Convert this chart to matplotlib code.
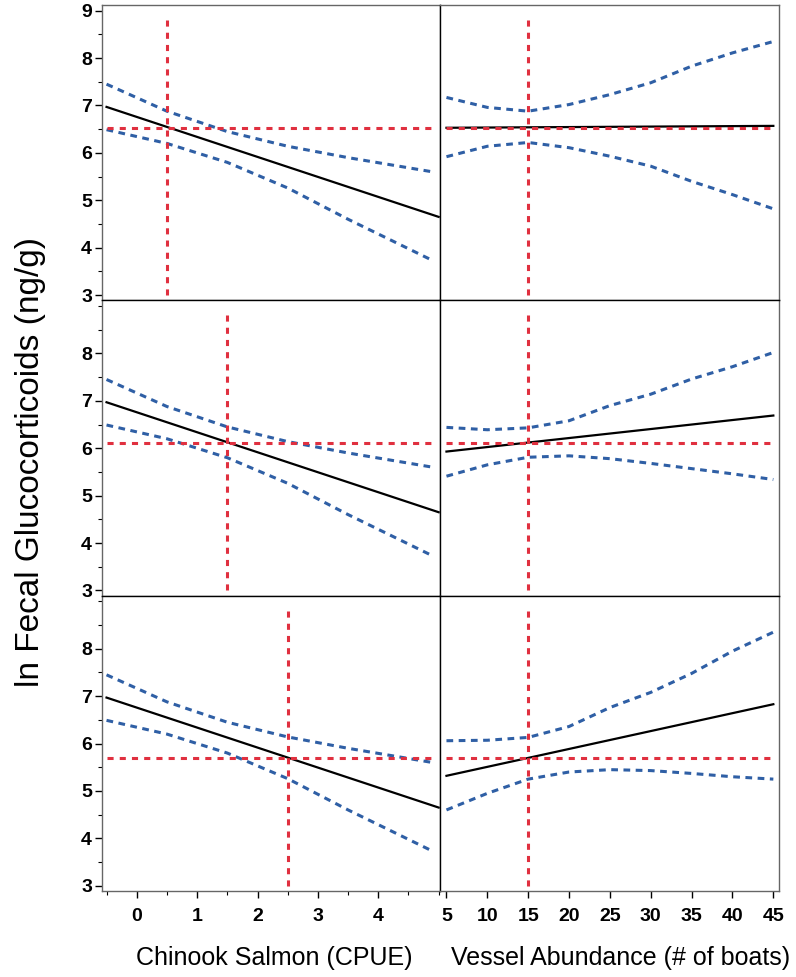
import numpy as np
import matplotlib
matplotlib.use("Agg")
from matplotlib import pyplot as plt
from matplotlib.ticker import MultipleLocator
from matplotlib.font_manager import FontProperties

# chinook salmon profile (same in every row, vessels held at 15)
chin_x = [-0.5, 0.5, 1.5, 2.5, 3.5, 4.9]
chin_upper = [7.45, 6.88, 6.45, 6.14, 5.9, 5.6]
chin_lower = [6.49, 6.2, 5.8, 5.26, 4.6, 3.73]
chin_mean_x = [-0.5, 5.0]
chin_mean = [6.97, 4.65]

# vessel abundance profile, one per chinook setting
vessel_x = [5, 10, 15, 20, 25, 30, 35, 40, 45]
vessel_mean = [[6.53, 6.57], [5.93, 6.69], [5.32, 6.83]]
vessel_upper = [
    [7.17, 6.96, 6.88, 7.02, 7.23, 7.48, 7.83, 8.11, 8.35],
    [6.44, 6.39, 6.43, 6.58, 6.9, 7.14, 7.46, 7.72, 8.02],
    [6.06, 6.07, 6.13, 6.36, 6.76, 7.08, 7.48, 7.95, 8.35],
]
vessel_lower = [
    [5.92, 6.14, 6.22, 6.11, 5.93, 5.72, 5.4, 5.12, 4.82],
    [5.41, 5.65, 5.81, 5.84, 5.78, 5.68, 5.57, 5.46, 5.34],
    [4.6, 4.95, 5.25, 5.4, 5.45, 5.43, 5.37, 5.3, 5.25],
]

# current settings (crosshairs)
chin_setting = [0.5, 1.5, 2.5]
vessel_setting = [15, 15, 15]
pred_value = [6.53, 6.11, 5.69]

blue = '#2f5fa5'
red = '#e0303f'
dash_ci = (0, (2.2, 1.8))
dash_red = (0, (2.0, 2.0))
tickfont = FontProperties(family=['Liberation Sans', 'DejaVu Sans'], weight='bold', size=14)

fig = plt.figure(figsize=(7.96, 9.77), dpi=100)
gs = fig.add_gridspec(3, 2, left=101.7/796, right=779.3/796, top=1-5/977, bottom=1-891/977,
                      hspace=0, wspace=0)

for r in range(3):
    axl = fig.add_subplot(gs[r, 0])
    axr = fig.add_subplot(gs[r, 1])

    # left: chinook
    axl.plot(chin_x, chin_upper, color=blue, lw=2.2, ls=dash_ci)
    axl.plot(chin_x, chin_lower, color=blue, lw=2.2, ls=dash_ci)
    axl.plot(chin_mean_x, chin_mean, color='black', lw=1.6)
    axl.hlines(pred_value[r], chin_x[0], chin_x[-1], color=red, lw=2.2, ls=dash_red)
    axl.vlines(chin_setting[r], 3.0, 8.9, color=red, lw=2.2, ls=dash_red)
    axl.set_xlim(-0.58, 5.03)

    # right: vessels
    axr.plot(vessel_x, vessel_upper[r], color=blue, lw=2.2, ls=dash_ci)
    axr.plot(vessel_x, vessel_lower[r], color=blue, lw=2.2, ls=dash_ci)
    axr.plot([vessel_x[0], vessel_x[-1]], vessel_mean[r], color='black', lw=1.6)
    axr.hlines(pred_value[r], vessel_x[0], 44.8, color=red, lw=2.2, ls=dash_red)
    axr.vlines(vessel_setting[r], 3.0, 8.9, color=red, lw=2.2, ls=dash_red)
    axr.set_xlim(4.27, 45.73)

    for ax in (axl, axr):
        ax.set_ylim(2.89, 9.12)
        for s in ax.spines.values():
            s.set_color('#666666')
            s.set_linewidth(1.0)
        if r > 0:
            ax.spines['top'].set_color('black')
    axr.spines['left'].set_color('black')

    axl.set_yticks(list(range(3, 10)) if r == 0 else list(range(3, 9)))
    axl.yaxis.set_minor_locator(MultipleLocator(0.5))
    axl.tick_params(axis='y', which='major', length=5, width=1, direction='out', pad=2)
    axl.tick_params(axis='y', which='minor', length=3, width=0.8, direction='out')
    for lab in axl.get_yticklabels():
        lab.set_fontproperties(tickfont)
    axr.set_yticks([])
    axr.yaxis.set_minor_locator(plt.NullLocator())

    if r < 2:
        for ax in (axl, axr):
            ax.set_xticks([])
            ax.xaxis.set_minor_locator(plt.NullLocator())
    else:
        axl.set_xticks([0, 1, 2, 3, 4])
        axl.xaxis.set_minor_locator(MultipleLocator(0.5))
        axr.set_xticks([5, 10, 15, 20, 25, 30, 35, 40, 45])
        axr.xaxis.set_minor_locator(plt.NullLocator())
        for ax in (axl, axr):
            ax.tick_params(axis='x', which='major', length=5, width=1, direction='out', pad=7)
            ax.tick_params(axis='x', which='minor', length=3, width=0.8, direction='out')
            for lab in ax.get_xticklabels():
                lab.set_fontproperties(tickfont)

fig.text(0.038, 1 - 462/977, 'ln Fecal Glucocorticoids (ng/g)', rotation=90,
         ha='center', va='center', fontsize=24, family='Liberation Sans')
fig.text(274/796, 1 - 958/977, 'Chinook Salmon (CPUE)', ha='center', va='center',
         fontsize=18, family='Liberation Sans')
fig.text(621/796, 1 - 958/977, 'Vessel Abundance (# of boats)', ha='center', va='center',
         fontsize=18, family='Liberation Sans')

fig.savefig('out.png', dpi=100)
